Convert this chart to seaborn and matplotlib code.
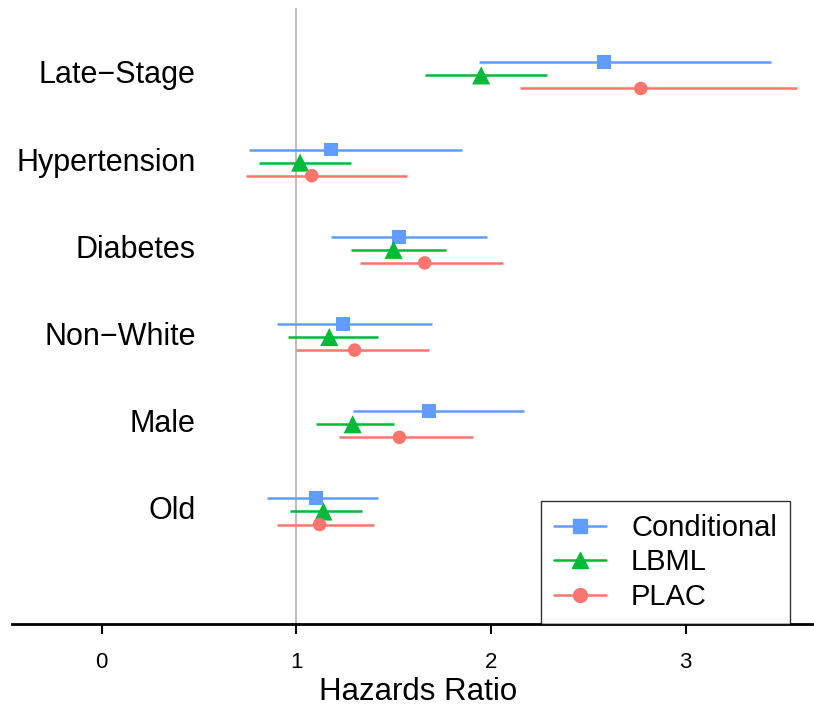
import matplotlib
matplotlib.use("Agg")
import matplotlib.pyplot as plt
import seaborn as sns
import pandas as pd
from matplotlib.lines import Line2D

# row labels, top to bottom
factors = ["Late\u2212Stage", "Hypertension", "Diabetes", "Non\u2212White", "Male", "Old"]
models = ["Conditional", "LBML", "PLAC"]

# hazard ratio estimates and CI bounds, in factor order
cond_hr = [2.58, 1.18, 1.53, 1.24, 1.68, 1.10]
cond_lo = [1.94, 0.76, 1.18, 0.90, 1.29, 0.85]
cond_hi = [3.44, 1.85, 1.98, 1.70, 2.17, 1.42]

lbml_hr = [1.95, 1.02, 1.50, 1.17, 1.29, 1.14]
lbml_lo = [1.66, 0.81, 1.28, 0.96, 1.10, 0.97]
lbml_hi = [2.29, 1.28, 1.77, 1.42, 1.50, 1.34]

plac_hr = [2.77, 1.08, 1.66, 1.30, 1.53, 1.12]
plac_lo = [2.15, 0.74, 1.33, 1.00, 1.22, 0.90]
plac_hi = [3.57, 1.57, 2.06, 1.68, 1.91, 1.40]

colors = {"Conditional": "#619CFF", "LBML": "#00BA38", "PLAC": "#F8766D"}
markers = {"Conditional": "s", "LBML": "^", "PLAC": "o"}
msizes = {"Conditional": 100, "LBML": 170, "PLAC": 95}
offsets = {"Conditional": 0.15, "LBML": 0.0, "PLAC": -0.15}

rows = []
for m, hr, lo, hi in [("Conditional", cond_hr, cond_lo, cond_hi),
                      ("LBML", lbml_hr, lbml_lo, lbml_hi),
                      ("PLAC", plac_hr, plac_lo, plac_hi)]:
    for i, f in enumerate(factors):
        rows.append({"factor": f, "model": m, "hr": hr[i], "lo": lo[i], "hi": hi[i],
                     "y": len(factors) - i + offsets[m]})
df = pd.DataFrame(rows)

sns.set_style("white")
plt.rcParams["font.family"] = ["Liberation Sans", "DejaVu Sans"]
plt.rcParams["text.color"] = "black"
plt.rcParams["xtick.color"] = "black"
plt.rcParams["axes.labelcolor"] = "black"

fig = plt.figure(figsize=(8.14, 7.11), dpi=100)
ax = fig.add_axes([0.0147, 0.1224, 0.983, 0.866])

# reference line at HR = 1
ax.axvline(1, color="#bebebe", lw=1.5, zorder=0)

# confidence intervals
for m in models:
    sub = df[df["model"] == m]
    ax.hlines(sub["y"], sub["lo"], sub["hi"], color=colors[m], lw=1.8, zorder=2)

# point estimates
sns.scatterplot(data=df, x="hr", y="y", hue="model", style="model", size="model",
                palette=colors, markers=markers, sizes=msizes, linewidth=0,
                legend=False, ax=ax, zorder=3)

for i, f in enumerate(factors):
    ax.text(0.483, len(factors) - i, f, ha="right", va="center", fontsize=22)

ax.set_xlim(-0.46, 3.65)
ax.set_ylim(-0.29, 6.77)
ax.set_xticks([0, 1, 2, 3])
ax.set_yticks([])
ax.set_xlabel("Hazards Ratio", fontsize=22.5)
ax.xaxis.set_label_coords(0.508, -0.111, transform=ax.transAxes)
ax.xaxis.label.set_va("center")
ax.set_ylabel("")
ax.tick_params(axis="x", labelsize=16, length=7, width=1.5,
               direction="out", bottom=True, pad=13)
for s in ["left", "right", "top"]:
    ax.spines[s].set_visible(False)
ax.spines["bottom"].set_color("black")
ax.spines["bottom"].set_linewidth(2)

handles = [Line2D([], [], color=colors[m], marker=markers[m],
                  markersize=12 if m == "LBML" else 10, lw=1.8, label=m)
           for m in models]
leg = ax.legend(handles=handles, loc="lower right", bbox_to_anchor=(0.9725, 0.0),
                fontsize=21, frameon=True, fancybox=False, handlelength=1.8,
                borderpad=0.45, labelspacing=0.22, handletextpad=0.85,
                borderaxespad=0)
leg.get_frame().set_edgecolor("black")
leg.get_frame().set_linewidth(1)

fig.savefig("out.png", dpi=100)
